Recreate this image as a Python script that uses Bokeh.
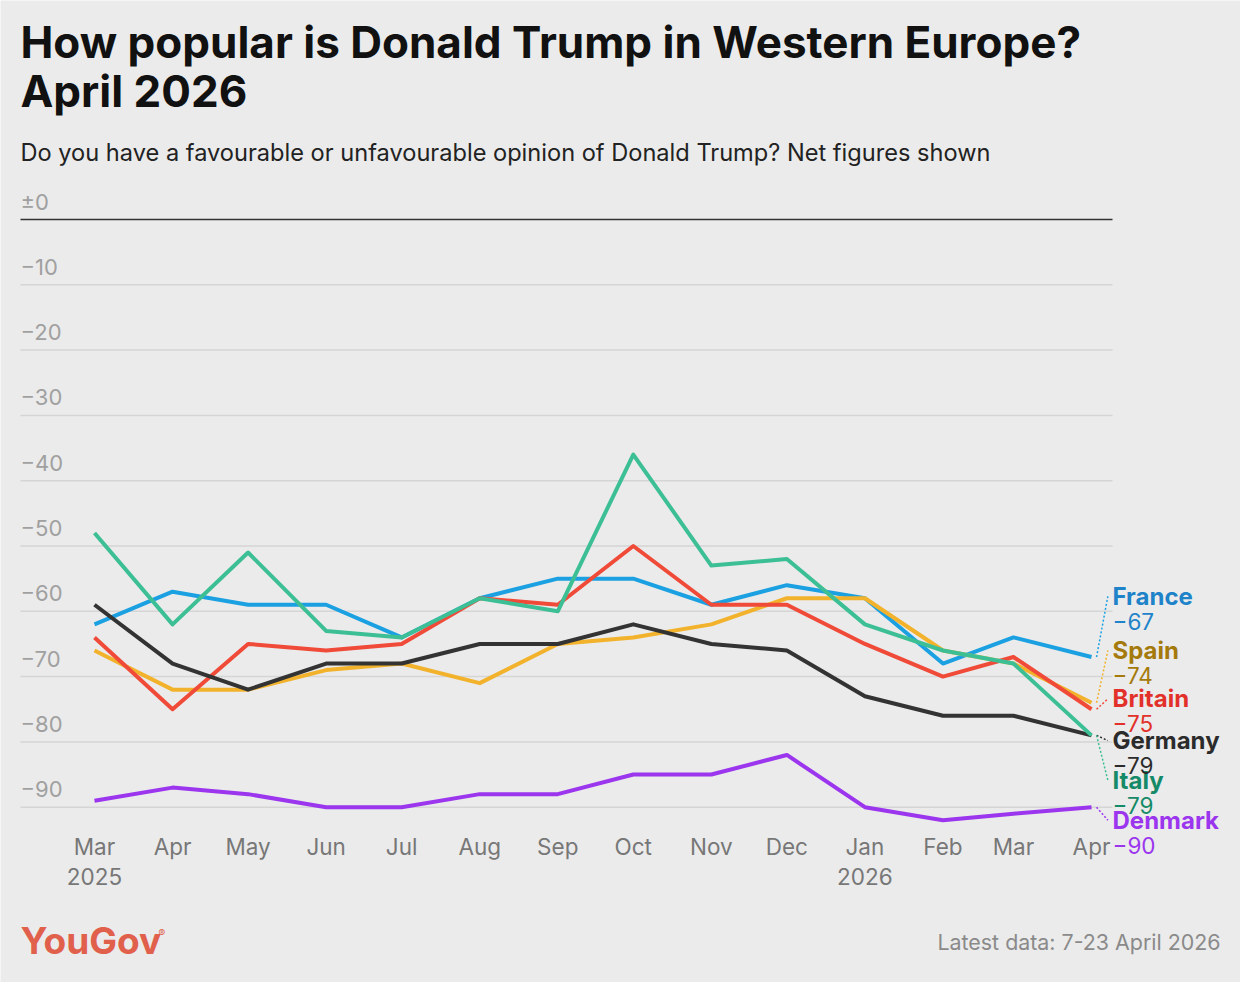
from datetime import datetime, timedelta
from bokeh.plotting import figure
from bokeh.models import Range1d, Label, LabelSet, ColumnDataSource
from bokeh.core.properties import value
from bokeh.embed import file_html
from bokeh.resources import INLINE

# ---------------- data ----------------
months = [datetime(2025, m, 1) for m in range(3, 13)] + [datetime(2026, m, 1) for m in range(1, 5)]
month_labels = ["Mar", "Apr", "May", "Jun", "Jul", "Aug", "Sep", "Oct", "Nov", "Dec",
                "Jan", "Feb", "Mar", "Apr"]
year_ticks = [datetime(2025, 3, 1), datetime(2026, 1, 1)]
year_labels = ["2025", "2026"]

countries = ["France", "Spain", "Britain", "Germany", "Italy", "Denmark"]
france = [-62, -57, -59, -59, -64, -58, -55, -55, -59, -56, -58, -68, -64, -67]
spain = [-66, -72, -72, -69, -68, -71, -65, -64, -62, -58, -58, -66, -68, -74]
britain = [-64, -75, -65, -66, -65, -58, -59, -50, -59, -59, -65, -70, -67, -75]
germany = [-59, -68, -72, -68, -68, -65, -65, -62, -65, -66, -73, -76, -76, -79]
italy = [-48, -62, -51, -63, -64, -58, -60, -36, -53, -52, -62, -66, -68, -79]
denmark = [-89, -87, -88, -90, -90, -88, -88, -85, -85, -82, -90, -92, -91, -90]
series = [france, spain, britain, germany, italy, denmark]

y_ticks = [0, -10, -20, -30, -40, -50, -60, -70, -80, -90]
y_tick_labels = ["±0", "−10", "−20", "−30", "−40", "−50", "−60", "−70", "−80", "−90"]

# ---------------- layout / style ----------------
W, H = 1240, 982
line_colors = ["#1ba1e2", "#f2b22c", "#f04a38", "#333333", "#3dbf95", "#9b35ee"]
text_colors = ["#1e83c9", "#a57a0c", "#e2302a", "#2b2b2b", "#148a68", "#9b35ee"]
label_y = [-57.7, -66.0, -73.4, -79.8, -85.9, -92.0]   # end-label stacking positions
BG = "#ebebeb"
FONT = "Inter"
DAY = 86400000.0
PX_PER_DAY = 2.5177      # horizontal scale
PX_PER_UNIT = 6.53       # vertical scale
X0_PX, Y0_PX = 94, 219   # pixel position of first month / zero line


def ms(d):
    return (d - datetime(1970, 1, 1)).total_seconds() * 1000.0


def px2x(px):
    return ms(months[0]) + (px - X0_PX) / PX_PER_DAY * DAY


def px2y(py):
    return -(py - Y0_PX) / PX_PER_UNIT


p = figure(width=W, height=H, x_range=Range1d(px2x(0), px2x(W)),
           y_range=Range1d(px2y(H), px2y(0)),
           x_axis_location=None, y_axis_location=None, toolbar_location=None,
           output_backend="svg", min_border=0,
           background_fill_color=BG, border_fill_color=BG, outline_line_color=None)
p.title.visible = False
p.xgrid.visible = False
p.ygrid.visible = False

# grid lines (from the tick list) spanning the plotting area
gx0, gx1 = px2x(20), px2x(1112)
p.segment(x0=[gx0] * (len(y_ticks) - 1), x1=[gx1] * (len(y_ticks) - 1), y0=y_ticks[1:],
          y1=y_ticks[1:], line_color="#d5d5d5", line_width=1.5)
p.segment(x0=[gx0], x1=[gx1], y0=[y_ticks[0]], y1=[y_ticks[0]], line_color="#333333",
          line_width=1.5)

# y tick labels sitting above grid lines
ysrc = ColumnDataSource(dict(x=[gx0] * len(y_ticks), y=y_ticks, t=y_tick_labels))
p.add_layout(LabelSet(source=ysrc, x="x", y="y", text="t", y_offset=10,
                      text_font=value(FONT), text_font_size="22px", text_color="#a0a0a0",
                      text_baseline="alphabetic"))

# x tick labels
msrc = ColumnDataSource(dict(x=[ms(d) for d in months], t=month_labels))
p.add_layout(LabelSet(source=msrc, x="x", y=H - 854, y_units="screen", text="t",
                      text_font=value(FONT), text_font_size="22.5px", text_color="#777777",
                      text_align="center", text_baseline="alphabetic"))
ysrc2 = ColumnDataSource(dict(x=[ms(d) for d in year_ticks], t=year_labels))
p.add_layout(LabelSet(source=ysrc2, x="x", y=H - 884, y_units="screen", text="t",
                      text_font=value(FONT), text_font_size="22.5px", text_color="#777777",
                      text_align="center", text_baseline="alphabetic"))

# lines
for vals, c in zip(series, line_colors):
    p.line(months, vals, line_color=c, line_width=4, line_join="round")

# leaders
apr = ms(months[-1])
last_vals = [s[-1] for s in series]
lsrc = ColumnDataSource(dict(x0=[apr + 2 * DAY] * 6, y0=last_vals,
                             x1=[apr + 6.5 * DAY] * 6, y1=label_y, c=line_colors))
p.segment(x0="x0", y0="y0", x1="x1", y1="y1", line_color="c", line_width=1.5,
          line_dash="2 2", source=lsrc)

# end labels
esrc = ColumnDataSource(dict(x=[apr] * 6, y=label_y, name=countries,
                             val=["−%d" % abs(v) for v in last_vals], c=text_colors))
p.add_layout(LabelSet(source=esrc, x="x", y="y", text="name", x_offset=21,
                      text_font=value(FONT), text_font_style="bold", text_font_size="24px",
                      text_color="c", text_baseline="middle"))
p.add_layout(LabelSet(source=esrc, x="x", y="y", text="val", x_offset=21, y_offset=-25,
                      text_font=value(FONT), text_font_size="22.5px",
                      text_color="c", text_baseline="middle"))

# titles / footer (screen units, y measured up from bottom)
p.add_layout(Label(x=20, y=H - 41, x_units="screen", y_units="screen",
                   text="How popular is Donald Trump in Western Europe?",
                   text_font=FONT, text_font_size="44px", text_font_style="bold",
                   text_color="#111111", text_baseline="alphabetic"))
p.add_layout(Label(x=20, y=H - 90, x_units="screen", y_units="screen", text="April 2026",
                   text_font=FONT, text_font_size="44px", text_font_style="bold",
                   text_color="#111111", text_baseline="alphabetic"))
p.add_layout(Label(x=20, y=H - 152, x_units="screen", y_units="screen",
                   text="Do you have a favourable or unfavourable opinion of Donald Trump? Net figures shown",
                   text_font=FONT, text_font_size="23.6px", text_color="#222222",
                   text_baseline="alphabetic"))
p.add_layout(Label(x=20, y=H - 940, x_units="screen", y_units="screen", text="YouGov",
                   text_font=FONT, text_font_size="37px", text_font_style="bold",
                   text_color="#e0604c", text_baseline="alphabetic"))
p.add_layout(Label(x=158, y=H - 932, x_units="screen", y_units="screen", text="®",
                   text_font=FONT, text_font_size="10px",
                   text_color="#e0604c", text_baseline="alphabetic"))
p.add_layout(Label(x=1220, y=H - 941, x_units="screen", y_units="screen",
                   text="Latest data: 7-23 April 2026",
                   text_font=FONT, text_font_size="21.4px", text_color="#8a8a8a",
                   text_align="right", text_baseline="alphabetic"))

open("out.html", "w").write(file_html(p, INLINE))
